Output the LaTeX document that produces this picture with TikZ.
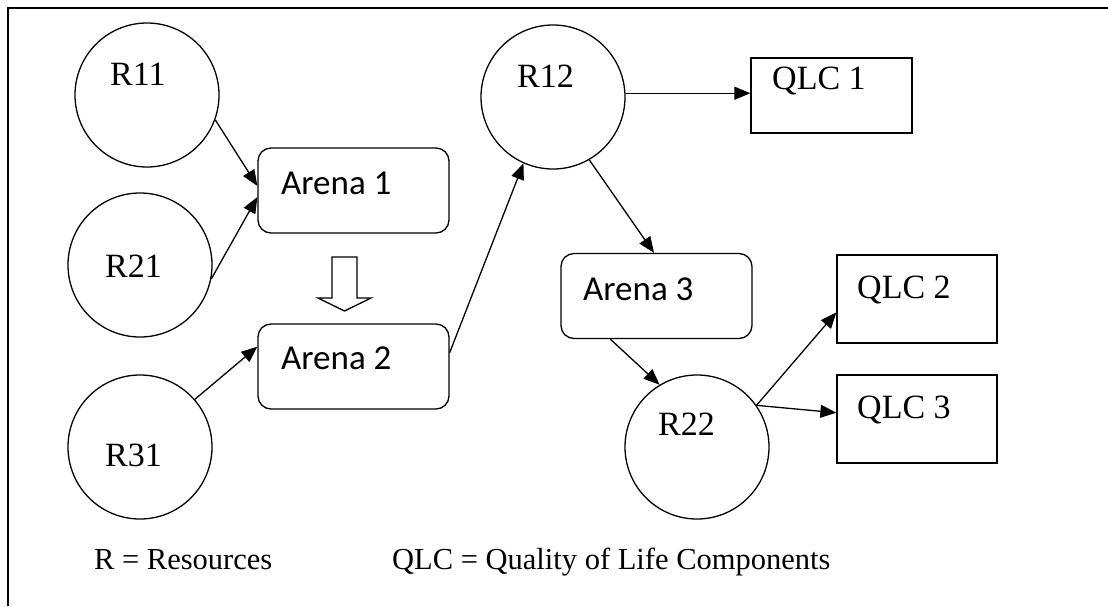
\documentclass[tikz,border=0pt]{standalone}
\usepackage{fontspec}
\setmainfont{Liberation Serif}
\newfontfamily\arenafont{Carlito}
\usetikzlibrary{arrows.meta,calc}

\begin{document}
\begin{tikzpicture}[x=1pt,y=-1pt,
  res/.style={circle,draw,line width=1.3pt,minimum size=144pt,inner sep=0pt},
  arena/.style={rectangle,rounded corners=13pt,draw,line width=1.3pt,
                minimum width=191pt,minimum height=85pt,inner sep=0pt},
  qlc/.style={rectangle,draw,line width=1.3pt,minimum width=160pt,
              minimum height=88pt,inner sep=0pt},
  serlabel/.style={anchor=base west,inner sep=0pt,font=\fontsize{34}{40}\selectfont},
  arlabel/.style={anchor=base west,inner sep=0pt,font=\arenafont\fontsize{35}{40}\selectfont},
  legend/.style={anchor=base west,inner sep=0pt,font=\fontsize{30.5}{36}\selectfont},
  link/.style={line width=1.3pt,-{Triangle[length=16pt,width=13pt]}}
]
% white page
\fill[white] (0,0) rectangle (1108,606);
\useasboundingbox (0,0) rectangle (1108,606);

% frame: left and top edges only
\draw[line width=1.8pt,line cap=butt] (8,606) -- (8,8) -- (1108,8);

% resources
\node[res] (r11) at (147,95) {};
\node[res] (r21) at (140,265) {};
\node[res] (r31) at (140,447) {};
\node[res] (r12) at (553,97) {};
\node[res] (r22) at (697,447) {};
\node[serlabel] (r11t) at (110,85) {R11};
\node[serlabel] (r21t) at (105,277) {R21};
\node[serlabel] (r31t) at (105,466) {R31};
\node[serlabel] (r12t) at (517,87) {R12};
\node[serlabel] (r22t) at (658,435) {R22};

% arenas
\node[arena] (a1) at (353.5,190.5) {};
\node[arena] (a2) at (353.5,366.5) {};
\node[arena] (a3) at (656.5,296) {};
\node[arlabel] (a1t) at (281,194) {Arena 1};
\node[arlabel] (a2t) at (281,369) {Arena 2};
\node[arlabel] (a3t) at (583,300) {Arena 3};

% quality of life components
\node[qlc,minimum width=161pt,minimum height=75pt] (q1) at (831.5,95.5) {};
\node[qlc] (q2) at (917,299) {};
\node[qlc] (q3) at (917,419) {};
\node[serlabel] (q1t) at (772,89) {QLC 1};
\node[serlabel] (q2t) at (857,298) {QLC 2};
\node[serlabel] (q3t) at (857,418) {QLC 3};

% hollow arrow from Arena 1 to Arena 2
\draw[line width=1.3pt,line join=miter] (332,257) -- (357,257) -- (357,298) -- (371,298)
  -- (344.5,311) -- (318,298) -- (332,298) -- cycle;

% connectors
\draw[link] (r11.-20) -- ($(a1.north west)!0.447!(a1.south west)$);
\draw[link] (r21.-11) -- ($(a1.north west)!0.576!(a1.south west)$);
\draw[link] (r31.41) -- ($(a2.north west)!0.27!(a2.south west)$);
\draw[link] ($(a2.north east)!0.34!(a2.south east)$) -- (r12.-114);
\draw[link] (r12.3) -- (r12.3 -| q1.west);
\draw[link] (r12.-60) -- ($(a3.north west)!0.487!(a3.north east)$);
\draw[link] ($(a3.south west)!0.26!(a3.south east)$) -- (r22.121);
\draw[link] (r22.35) -- ($(q2.north west)!0.65!(q2.south west)$);
\draw[link] (r22.35) -- ($(q3.north west)!0.43!(q3.south west)$);

% legend
\node[legend] (lr) at (94,569) {R = Resources};
\node[legend] (lq) at (392,569) {QLC = Quality of Life Components};
\end{tikzpicture}
\end{document}
